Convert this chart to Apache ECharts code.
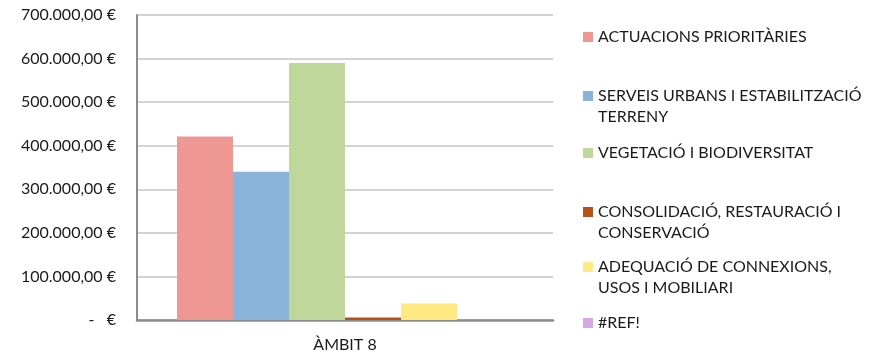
<!DOCTYPE html>
<html>
<head>
<meta charset="utf-8">
<script src="https://cdn.jsdelivr.net/npm/echarts@6/dist/echarts.min.js"></script>
<style>
  html, body { margin: 0; padding: 0; background: #fff; }
  #chart { width: 877px; height: 355px; }
</style>
</head>
<body>
<div id="chart"></div>
<script>
// Budget per line of action for the area
const categories = ['ÀMBIT 8'];
const seriesNames = [
  'ACTUACIONS PRIORITÀRIES',
  'SERVEIS URBANS I ESTABILITZACIÓ\nTERRENY',
  'VEGETACIÓ I BIODIVERSITAT',
  'CONSOLIDACIÓ, RESTAURACIÓ I\nCONSERVACIÓ',
  'ADEQUACIÓ DE CONNEXIONS,\nUSOS I MOBILIARI',
  '#REF!'
];
const actuacions = [421000];
const serveis = [340000];
const vegetacio = [590000];
const consolidacio = [6000];
const adequacio = [38000];
const ref = [0];
const yTicks = [0, 100000, 200000, 300000, 400000, 500000, 600000, 700000];

const seriesValues = [actuacions, serveis, vegetacio, consolidacio, adequacio, ref];
const colors = ['#EE9793', '#8AB3D9', '#BFD79B', '#B8501A', '#FEE982', '#D8A8E4'];

// vertical centre of each legend entry's first line
const legendCenters = [37, 96, 153, 212, 267, 323];
const LINE_H = 20;
const LEGEND_X = 578;

const FONT = 'Lato, "Open Sans", sans-serif';
const FS = 16;
const TEXT_COLOR = '#1a1a1a';

function euro(v) {
  if (v === 0) return '-   €';
  const s = Math.round(v).toString().replace(/\B(?=(\d{3})+(?!\d))/g, '.');
  return s + ',00 €';
}

// the marker sits on the first line; continuation lines are drawn underneath
const continuation = [];
seriesNames.forEach((name, i) => {
  const lines = name.split('\n');
  for (let k = 1; k < lines.length; k++) {
    continuation.push({
      type: 'text',
      left: LEGEND_X + 5 + 10 + 5,
      top: legendCenters[i] + k * 21 - LINE_H / 2,
      style: {
        text: lines[k],
        font: FS + 'px ' + FONT,
        fill: TEXT_COLOR,
        lineHeight: LINE_H
      }
    });
  }
});

const chart = echarts.init(document.getElementById('chart'));
chart.setOption({
  animation: false,
  color: colors,
  textStyle: { fontFamily: FONT },
  grid: { left: 137, top: 15, right: 324, bottom: 35, containLabel: false },
  legend: seriesNames.map((name, i) => ({
    data: [name],
    left: LEGEND_X,
    top: legendCenters[i] - 5 - LINE_H / 2,
    orient: 'vertical',
    itemWidth: 10,
    itemHeight: 10,
    itemGap: 0,
    icon: 'rect',
    selectedMode: false,
    formatter: n => n.split('\n')[0],
    textStyle: { fontFamily: FONT, fontSize: FS, color: TEXT_COLOR, lineHeight: LINE_H }
  })),
  graphic: continuation,
  xAxis: {
    type: 'category',
    data: categories,
    axisLine: { lineStyle: { color: '#8c8c8c', width: 2.5 } },
    axisTick: { show: false },
    axisLabel: { fontFamily: FONT, fontSize: FS, color: TEXT_COLOR, margin: 17 }
  },
  yAxis: {
    type: 'value',
    min: yTicks[0],
    max: yTicks[yTicks.length - 1],
    interval: yTicks[1] - yTicks[0],
    axisLine: { show: true, lineStyle: { color: '#8c8c8c', width: 2 } },
    axisTick: { show: false },
    splitLine: { lineStyle: { color: '#c4c4c4', width: 1.5 } },
    axisLabel: {
      fontFamily: FONT, fontSize: FS, color: TEXT_COLOR, margin: 21,
      formatter: euro
    }
  },
  series: seriesNames.map((name, i) => ({
    name: name,
    type: 'bar',
    data: seriesValues[i],
    barWidth: 56,
    barGap: '0%',
    itemStyle: { color: colors[i] }
  }))
});
</script>
</body>
</html>
